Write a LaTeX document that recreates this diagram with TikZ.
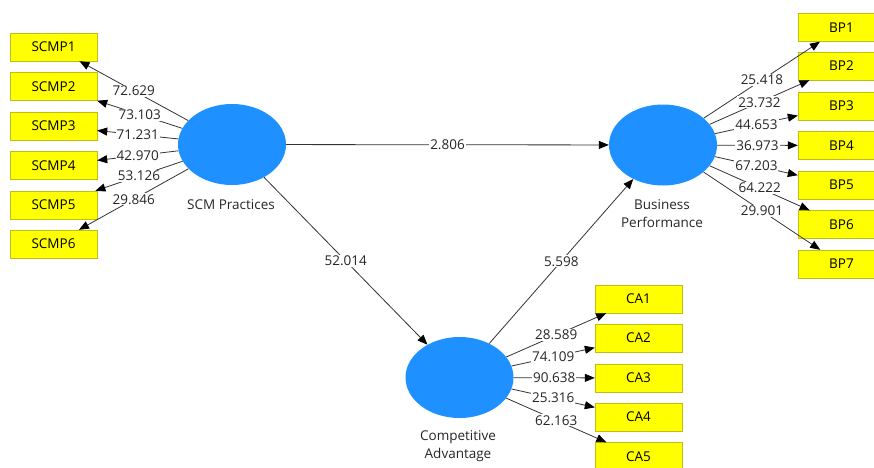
\documentclass[tikz,border=0pt]{standalone}
\usepackage{xcolor}
\usepackage{fontspec}
\setmainfont{Open Sans}
\usetikzlibrary{shapes.geometric, arrows.meta}

\definecolor{lvblue}{RGB}{30,144,255}
\definecolor{itemfill}{RGB}{255,255,0}
\definecolor{itemline}{RGB}{190,190,20}

\begin{document}
\begin{tikzpicture}[x=1pt,y=-1pt,font=\fontsize{13.5}{18}\selectfont]
        \path[use as bounding box] (0,0) rectangle (874,467);
        \clip (0,0) rectangle (874,467);
        \begin{scope}[every node/.style={ellipse,fill=lvblue,minimum width=108pt,minimum height=81pt,inner sep=0pt}]
          \node (scm) at (232,144.5) {};
          \node (bp) at (663,145) {};
          \node (ca) at (459.5,377.5) {};
        \end{scope}
        \begin{scope}[every node/.style={text=black!85,align=center}]
          \node (scmname) at (231,205) {SCM Practices};
          \node (bpname) at (662,214) {Business\\Performance};
          \node (caname) at (458,446) {Competitive\\Advantage};
        \end{scope}
        \begin{scope}[every node/.style={draw=itemline,fill=itemfill,minimum width=87pt,minimum height=28pt,inner sep=0pt}]
          \node (scmp1) at (53.5,47) {SCMP1};
          \node (scmp2) at (53.5,86.5) {SCMP2};
          \node (scmp3) at (53.5,126) {SCMP3};
          \node (scmp4) at (53.5,165.5) {SCMP4};
          \node (scmp5) at (53.5,205) {SCMP5};
          \node (scmp6) at (53.5,244) {SCMP6};
          \node (bp1) at (841.5,27.5) {BP1};
          \node (bp2) at (841.5,66) {BP2};
          \node (bp3) at (841.5,106) {BP3};
          \node (bp4) at (841.5,145.5) {BP4};
          \node (bp5) at (841.5,185) {BP5};
          \node (bp6) at (841.5,224.5) {BP6};
          \node (bp7) at (841.5,264) {BP7};
          \node (ca1) at (638.5,299) {CA1};
          \node (ca2) at (638.5,338) {CA2};
          \node (ca3) at (638.5,378) {CA3};
          \node (ca4) at (638.5,417) {CA4};
          \node (ca5) at (638.5,456.5) {CA5};
        \end{scope}
        \begin{scope}[every edge/.style={draw=black!80,line width=0.8pt,-{Triangle[length=10pt,width=8pt,color=black]}},
                      every node/.style={fill=white,inner sep=1pt,text=black!85}]
          \path (scm) edge node {72.629} (scmp1);
          \path (scm) edge node {73.103} (scmp2);
          \path (scm) edge node {71.231} (scmp3);
          \path (scm) edge node {42.970} (scmp4);
          \path (scm) edge node {53.126} (scmp5);
          \path (scm) edge node {29.846} (scmp6);
          \path (bp) edge node {25.418} (bp1);
          \path (bp) edge node {23.732} (bp2);
          \path (bp) edge node {44.653} (bp3);
          \path (bp) edge node {36.973} (bp4);
          \path (bp) edge node {67.203} (bp5);
          \path (bp) edge node {64.222} (bp6);
          \path (bp) edge node {29.901} (bp7);
          \path (ca) edge node {28.589} (ca1);
          \path (ca) edge node {74.109} (ca2);
          \path (ca) edge node {90.638} (ca3);
          \path (ca) edge node {25.316} (ca4);
          \path (ca) edge node {62.163} (ca5);
          \path (scm) edge node {2.806} (bp);
          \path (scm) edge node {52.014} (ca);
          \path (ca) edge node {5.598} (bp);
        \end{scope}
      \end{tikzpicture}
\end{document}
